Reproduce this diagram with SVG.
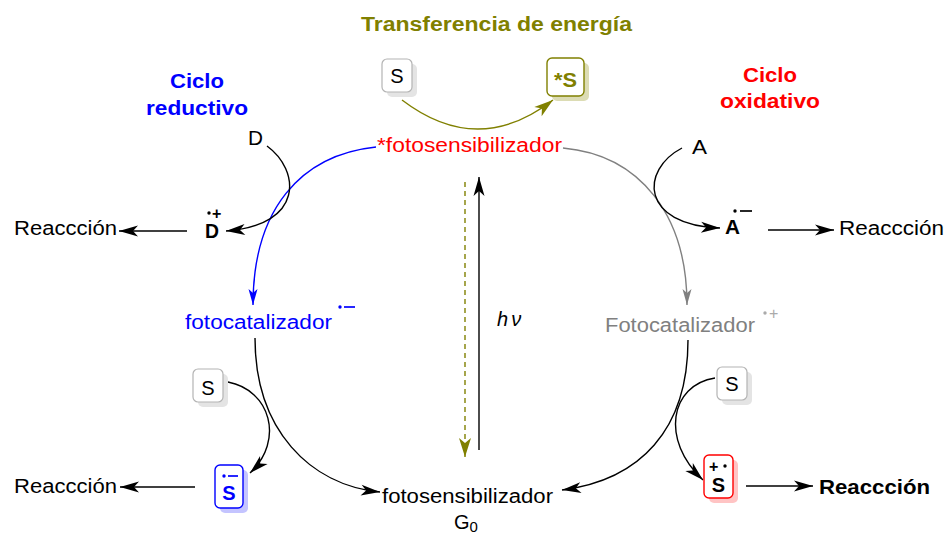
<svg xmlns="http://www.w3.org/2000/svg" width="948" height="537" viewBox="0 0 948 537">
<style>
text{font-family:"Liberation Sans",Arial,Helvetica,sans-serif;font-size:20px}
.b{font-weight:bold}
.sup{font-size:16px}
.ln{fill:none;stroke:#000;stroke-width:1.4}
.box{fill:#fff;stroke:#b4b4b4;stroke-width:1.2}
.shd{fill:#e4e4e4}
</style>
<defs>
<marker id="ak" viewBox="-21 -7 22 14" refX="0" refY="0" markerWidth="22" markerHeight="14" markerUnits="userSpaceOnUse" orient="auto"><path d="M0,0 L-19,-5.5 L-14,0 L-19,5.5 Z" fill="#000"/></marker>
<marker id="ab" viewBox="-19 -6 20 12" refX="0" refY="0" markerWidth="20" markerHeight="12" markerUnits="userSpaceOnUse" orient="auto"><path d="M0,0 L-16,-4.5 L-12,0 L-16,4.5 Z" fill="#0000ff"/></marker>
<marker id="ag" viewBox="-19 -6 20 12" refX="0" refY="0" markerWidth="20" markerHeight="12" markerUnits="userSpaceOnUse" orient="auto"><path d="M0,0 L-16,-4.5 L-12,0 L-16,4.5 Z" fill="#808080"/></marker>
<marker id="ao" viewBox="-21 -7 22 14" refX="0" refY="0" markerWidth="22" markerHeight="14" markerUnits="userSpaceOnUse" orient="auto"><path d="M0,0 L-19,-6 L-14,0 L-19,6 Z" fill="#808000"/></marker>
</defs>

<g id="connectors">
<path d="M402,100 Q478,158 553,100" fill="none" stroke="#808000" stroke-width="1.4" marker-end="url(#ao)"/>
<path d="M376,147 C300,155 253,210 253,305" fill="none" stroke="#0000ff" stroke-width="1.4" marker-end="url(#ab)"/>
<path d="M563,148 C640,155 687,215 687,305" fill="none" stroke="#808080" stroke-width="1.4" marker-end="url(#ag)"/>
<path class="ln" d="M255,338 C255,430 310,485 380,492" marker-end="url(#ak)"/>
<path class="ln" d="M688,340 C688,430 640,480 562,490" marker-end="url(#ak)"/>
<path class="ln" d="M267,146 C300,170 305,225 226,231" marker-end="url(#ak)"/>
<path class="ln" d="M682,148 C640,170 640,225 720,228" marker-end="url(#ak)"/>
<path class="ln" d="M187,231 L119,231" marker-end="url(#ak)"/>
<path class="ln" d="M768,230 L834,230" marker-end="url(#ak)"/>
<path class="ln" d="M479,450 L479,177" marker-end="url(#ak)"/>
<path d="M465,182 L465,457" fill="none" stroke="#808000" stroke-width="1.4" stroke-dasharray="5,4" marker-end="url(#ao)"/>
<path class="ln" d="M228,382 C270,390 285,440 250,473" marker-end="url(#ak)"/>
<path class="ln" d="M195,487 L120,487" marker-end="url(#ak)"/>
<path class="ln" d="M715,378 C670,385 660,440 703,480" marker-end="url(#ak)"/>
<path class="ln" d="M746,486 L813,486" marker-end="url(#ak)"/>
</g>

<g id="title"><text class="b" x="361" y="31" fill="#808000" textLength="271" lengthAdjust="spacingAndGlyphs">Transferencia de energía</text></g>
<g id="ciclo-reductivo">
<text class="b" x="170" y="88" fill="#0000ff" textLength="54" lengthAdjust="spacingAndGlyphs">Ciclo</text>
<text class="b" x="146" y="115" fill="#0000ff" textLength="102" lengthAdjust="spacingAndGlyphs">reductivo</text>
</g>
<g id="ciclo-oxidativo">
<text class="b" x="743" y="82" fill="#ff0000" textLength="54" lengthAdjust="spacingAndGlyphs">Ciclo</text>
<text class="b" x="720" y="108" fill="#ff0000" textLength="100" lengthAdjust="spacingAndGlyphs">oxidativo</text>
</g>

<g id="S-top">
<rect class="shd" x="387" y="64" width="30" height="33" rx="5"/>
<rect class="box" x="382" y="59" width="30" height="33" rx="5"/>
<text x="397" y="83" text-anchor="middle">S</text>
</g>
<g id="S-excited">
<rect x="552" y="63" width="37" height="38" rx="5" fill="#dcdcb4"/>
<rect x="547" y="58" width="37" height="38" rx="5" fill="#fff" stroke="#808000" stroke-width="1.4"/>
<text class="b" x="565.5" y="87" text-anchor="middle" fill="#808000" textLength="23" lengthAdjust="spacingAndGlyphs">*S</text>
</g>

<g id="fotosensibilizador-excited"><text x="377" y="152" fill="#ff0000" textLength="185" lengthAdjust="spacingAndGlyphs">*fotosensibilizador</text></g>
<g id="D"><text x="248" y="145" textLength="15" lengthAdjust="spacingAndGlyphs">D</text></g>
<g id="A"><text x="692" y="154" textLength="15" lengthAdjust="spacingAndGlyphs">A</text></g>
<g id="D-rad">
<text class="b" x="205" y="238" textLength="14" lengthAdjust="spacingAndGlyphs">D</text>
<circle cx="209" cy="213" r="1.7"/>
<text class="b sup" x="212" y="219">+</text>
</g>
<g id="A-rad">
<text class="b" x="725" y="234" textLength="15" lengthAdjust="spacingAndGlyphs">A</text>
<circle cx="735" cy="211" r="1.7"/>
<path d="M740,211 H752" stroke="#000" stroke-width="1.7"/>
</g>
<g id="reaccion-1"><text x="14" y="235" textLength="103" lengthAdjust="spacingAndGlyphs">Reaccción</text></g>
<g id="reaccion-2"><text x="839" y="235" textLength="105" lengthAdjust="spacingAndGlyphs">Reaccción</text></g>

<g id="fotocatalizador-red">
<text x="185" y="329" fill="#0000ff" textLength="147" lengthAdjust="spacingAndGlyphs">fotocatalizador</text>
<circle cx="340" cy="307" r="1.7" fill="#0000ff"/>
<path d="M344,307 H355" stroke="#0000ff" stroke-width="1.7"/>
</g>
<g id="fotocatalizador-ox">
<text x="605" y="332" fill="#808080" textLength="150" lengthAdjust="spacingAndGlyphs">Fotocatalizador</text>
<circle cx="765" cy="313" r="1.7" fill="#aaaaaa"/>
<text class="sup" x="769" y="319" fill="#aaaaaa">+</text>
</g>
<g id="hv"><text x="497" y="326" font-style="italic" font-family="'Liberation Serif','DejaVu Serif',serif">h<tspan dx="3">ν</tspan></text></g>

<g id="fotosensibilizador-ground">
<text x="382" y="503" textLength="171" lengthAdjust="spacingAndGlyphs">fotosensibilizador</text>
<text x="454" y="529">G<tspan font-size="15" dy="3">0</tspan></text>
</g>

<g id="S-ll">
<rect class="shd" x="198" y="374" width="30" height="33" rx="5"/>
<rect class="box" x="193" y="369" width="30" height="33" rx="5"/>
<text x="208" y="395" text-anchor="middle">S</text>
</g>
<g id="S-anion">
<rect x="220" y="470" width="28" height="43" rx="5" fill="#c4c4ff"/>
<rect x="215" y="465" width="28" height="43" rx="5" fill="#fff" stroke="#0000ff" stroke-width="1.4"/>
<circle cx="224" cy="476" r="1.7" fill="#0000ff"/>
<path d="M228,476 H238" stroke="#0000ff" stroke-width="1.7"/>
<text class="b" x="229" y="500" text-anchor="middle" fill="#0000ff">S</text>
</g>
<g id="reaccion-3"><text x="14" y="493" textLength="103" lengthAdjust="spacingAndGlyphs">Reaccción</text></g>

<g id="S-lr">
<rect class="shd" x="722" y="372" width="30" height="33" rx="5"/>
<rect class="box" x="717" y="367" width="30" height="33" rx="5"/>
<text x="732" y="391" text-anchor="middle">S</text>
</g>
<g id="S-cation">
<rect x="709" y="460" width="29" height="43" rx="5" fill="#ffc4c4"/>
<rect x="704" y="455" width="29" height="43" rx="5" fill="#fff" stroke="#ff0000" stroke-width="1.4"/>
<text class="b sup" x="709" y="472">+</text>
<circle cx="725" cy="466" r="1.7"/>
<text class="b" x="718.5" y="492" text-anchor="middle">S</text>
</g>
<g id="reaccion-4"><text class="b" x="819" y="494" textLength="111" lengthAdjust="spacingAndGlyphs">Reaccción</text></g>
</svg>
